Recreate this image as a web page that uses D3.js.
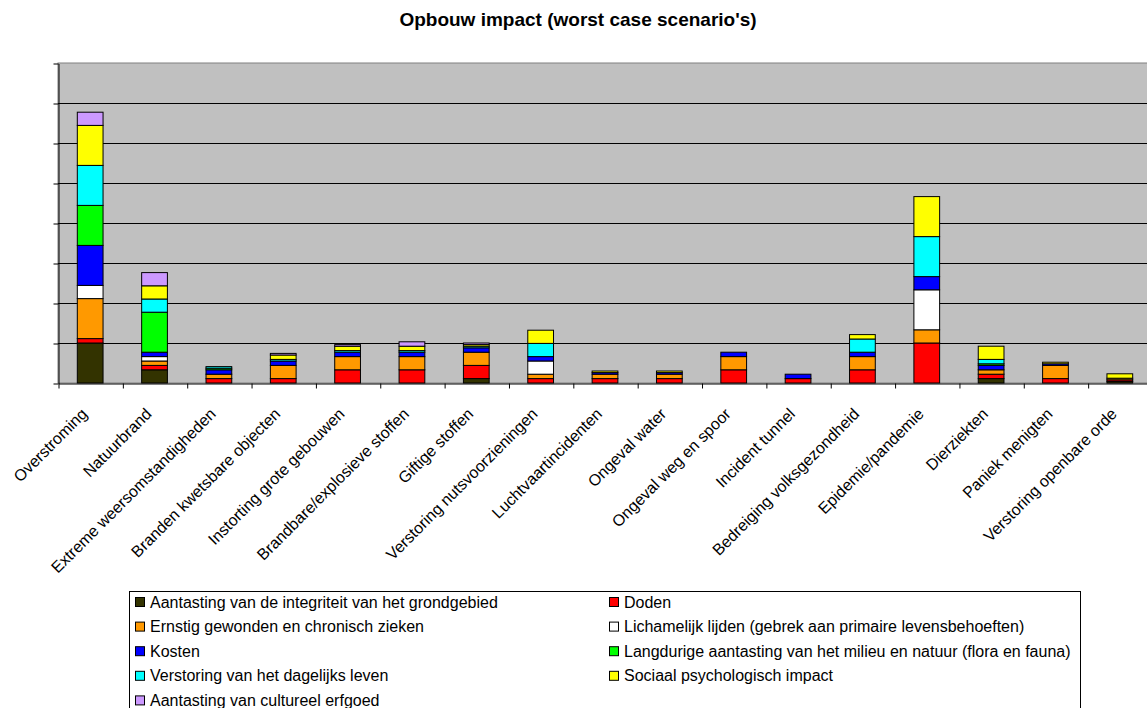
<!DOCTYPE html>
<html>
<head>
<meta charset="utf-8">
<script src="https://cdn.jsdelivr.net/npm/d3@7"></script>
<style>
  body { margin: 0; background: #fff; }
  svg { font-family: Arial, "Liberation Sans", sans-serif; }
</style>
</head>
<body>
<svg id="chart"></svg>
<script>
// Categories (x axis)
const categories = ["Overstroming", "Natuurbrand", "Extreme weersomstandigheden",
  "Branden kwetsbare objecten", "Instorting grote gebouwen", "Brandbare/explosieve stoffen",
  "Giftige stoffen", "Verstoring nutsvoorzieningen", "Luchtvaartincidenten", "Ongeval water",
  "Ongeval weg en spoor", "Incident tunnel", "Bedreiging volksgezondheid", "Epidemie/pandemie",
  "Dierziekten", "Paniek menigten", "Verstoring openbare orde"];

// Series names (stack order, bottom to top)
const seriesNames = ["Aantasting van de integriteit van het grondgebied", "Doden",
  "Ernstig gewonden en chronisch zieken", "Lichamelijk lijden (gebrek aan primaire levensbehoeften)",
  "Kosten", "Langdurige aantasting van het milieu en natuur (flora en fauna)",
  "Verstoring van het dagelijks leven", "Sociaal psychologisch impact",
  "Aantasting van cultureel erfgoed"];

// Values per series, one per category
const integriteit = [1, 0.33, 0, 0, 0, 0, 0.11, 0, 0, 0, 0, 0, 0, 0, 0.11, 0, 0.04];
const doden       = [0.11, 0.11, 0.11, 0.11, 0.33, 0.33, 0.33, 0.11, 0.11, 0.11, 0.33, 0.11, 0.33, 1, 0.11, 0.11, 0.04];
const ernstig     = [1, 0.11, 0.11, 0.33, 0.33, 0.33, 0.33, 0.11, 0.11, 0.11, 0.33, 0, 0.33, 0.33, 0.11, 0.33, 0.04];
const lichamelijk = [0.33, 0.11, 0, 0, 0, 0, 0, 0.33, 0, 0, 0, 0, 0, 1, 0, 0, 0];
const kosten      = [1, 0.11, 0.11, 0.11, 0.11, 0.11, 0.11, 0.11, 0.04, 0.04, 0.11, 0.11, 0.11, 0.33, 0.11, 0.04, 0];
const langdurig   = [1, 1, 0.04, 0, 0, 0, 0, 0, 0, 0, 0, 0, 0, 0, 0.04, 0, 0];
const verstoring  = [1, 0.33, 0.04, 0.04, 0.04, 0.04, 0.04, 0.33, 0, 0, 0, 0, 0.33, 1, 0.11, 0, 0];
const sociaal     = [1, 0.33, 0, 0.11, 0.11, 0.11, 0.04, 0.33, 0.04, 0.04, 0, 0, 0.11, 1, 0.33, 0.04, 0.11];
const cultureel   = [0.33, 0.33, 0, 0.04, 0.04, 0.11, 0.04, 0, 0, 0, 0, 0, 0, 0, 0, 0, 0];

const seriesValues = [integriteit, doden, ernstig, lichamelijk, kosten, langdurig, verstoring, sociaal, cultureel];
const colors = ["#333300", "#FF0000", "#FF9900", "#FFFFFF", "#0000FF", "#00FF00", "#00FFFF", "#FFFF00", "#CC99FF"];

const yTicks = [0, 1, 2, 3, 4, 5, 6, 7, 8];

const W = 1147, H = 708;
const plot = { left: 58, right: 1152, top: 63, bottom: 383 };

const svg = d3.select("#chart").attr("width", W).attr("height", H);

// Build table for d3.stack
const keys = seriesNames;
const table = categories.map((c, i) => {
  const row = { cat: c };
  keys.forEach((k, j) => { row[k] = seriesValues[j][i]; });
  return row;
});
const stacked = d3.stack().keys(keys)(table);

const x = d3.scaleBand().domain(categories)
  .range([plot.left, plot.right]).paddingInner(0.6).paddingOuter(0.3);
const y = d3.scaleLinear().domain([0, 8]).range([plot.bottom, plot.top]);

// Title
svg.append("text")
  .attr("x", 578).attr("y", 26)
  .attr("text-anchor", "middle")
  .style("font-size", "19px").style("font-weight", "bold")
  .text("Opbouw impact (worst case scenario's)");

// Plot background
svg.append("rect")
  .attr("x", plot.left).attr("y", plot.top)
  .attr("width", plot.right - plot.left).attr("height", plot.bottom - plot.top)
  .attr("fill", "#C0C0C0").attr("stroke", "#808080").attr("stroke-width", 1);

// Gridlines
svg.append("g").selectAll("line")
  .data(yTicks.filter(t => t > 0 && t < 8))
  .enter().append("line")
  .attr("x1", plot.left).attr("x2", plot.right)
  .attr("y1", d => Math.round(y(d)) + 0.5).attr("y2", d => Math.round(y(d)) + 0.5)
  .attr("stroke", "#000").attr("stroke-width", 1);

// Bars
svg.append("g").selectAll("g")
  .data(stacked)
  .enter().append("g")
  .attr("fill", (d, i) => colors[i])
  .selectAll("rect")
  .data(d => d.filter(p => p[1] - p[0] > 0))
  .enter().append("rect")
  .attr("x", d => x(d.data.cat))
  .attr("width", x.bandwidth())
  .attr("y", d => y(d[1]))
  .attr("height", d => y(d[0]) - y(d[1]))
  .attr("stroke", "#000").attr("stroke-width", 1);

// Y axis
const yAxis = d3.axisLeft(y).tickValues(yTicks).tickFormat("").tickSize(5).tickSizeOuter(0);
svg.append("g")
  .attr("transform", `translate(${plot.left + 0.5},0.5)`)
  .call(yAxis)
  .call(g => g.selectAll("line, path").attr("stroke", "#000"));

// X axis: ticks on category boundaries
const xb = d3.scaleLinear().domain([0, categories.length]).range([plot.left, plot.right]);
const xg = svg.append("g").attr("transform", `translate(0.5,${plot.bottom + 0.5})`);
xg.call(d3.axisBottom(xb).tickValues(d3.range(0, categories.length + 1))
    .tickFormat("").tickSize(5).tickSizeOuter(0))
  .call(g => g.selectAll("line, path").attr("stroke", "#000"));

// Category labels
svg.append("g").selectAll("text")
  .data(categories)
  .enter().append("text")
  .attr("transform", d => `translate(${x(d) + x.bandwidth() / 2 - 2},${plot.bottom + 32}) rotate(-45)`)
  .attr("text-anchor", "end")
  .style("font-size", "16px")
  .text(d => d);

// Legend
const legend = svg.append("g");
legend.append("rect")
  .attr("x", 129.5).attr("y", 591.5).attr("width", 951).attr("height", 130)
  .attr("fill", "#fff").attr("stroke", "#000");

const items = legend.selectAll("g.item")
  .data(seriesNames)
  .enter().append("g").attr("class", "item")
  .attr("transform", (d, i) => `translate(${i % 2 === 0 ? 135 : 609},${602 + Math.floor(i / 2) * 24.6})`);
items.append("rect")
  .attr("x", 0.5).attr("y", -4.5).attr("width", 9).attr("height", 9)
  .attr("fill", (d, i) => colors[i]).attr("stroke", "#000");
items.append("text")
  .attr("x", 15).attr("y", 5.5)
  .style("font-size", "16px")
  .text(d => d);
</script>
</body>
</html>
